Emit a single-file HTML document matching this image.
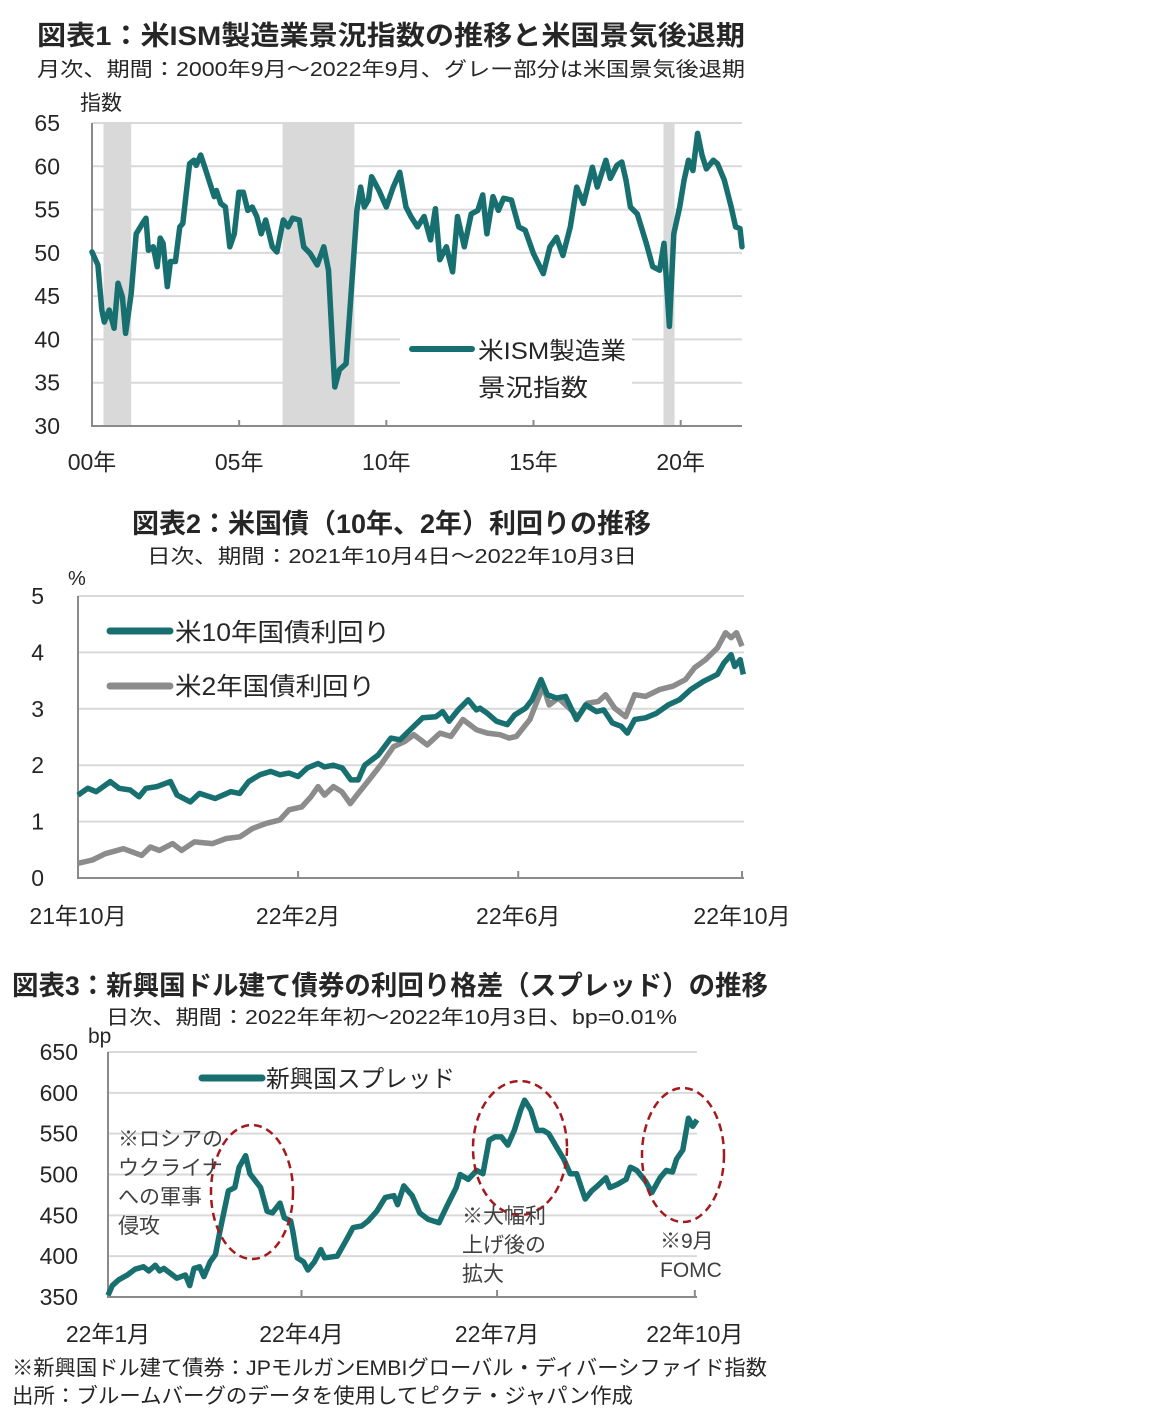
<!DOCTYPE html>
<html><head><meta charset="utf-8">
<style>
html,body{margin:0;padding:0;background:#fff;}
svg{display:block;font-family:"Liberation Sans","Noto Sans CJK JP",sans-serif;}
</style></head>
<body>
<svg id="s" width="1152" height="1428" viewBox="0 0 1152 1428" xmlns="http://www.w3.org/2000/svg">
<g id="c1"></g>
<g id="c2"></g>
<g id="c3"></g>
</svg>
<script>
// ---- Chart 1 data (month index since 2000-09, ISM value) ----
const ismMonths=[0,2.4,4,5,7,9,10.6,12.4,13.7,16,18,20.6,22,23,25,26.6,27.8,29,30.7,32,34,35.8,37,39.8,41.6,42.5,44.3,46,49.8,50.7,52.5,54.4,56.2,58,59.9,61.7,63.5,65.3,67.2,69,70.8,73.5,75.4,78,80,81.8,84.5,86.3,89,91.8,94.5,96.4,98.2,99,100.9,103.6,106.4,108,109.5,111,112.7,114,117,120,122.8,125.5,128,130,132.7,135.4,138,140,141.8,144.5,147,149,151.8,154.6,157.3,159.3,161,163.5,165.7,167.8,171,174,176.6,180,184,186.7,189.4,192,195,197.6,200.4,204,206,209.5,211.3,214,216,217.7,219.5,222.3,226,228.6,231.4,233.2,235.4,237.2,239.6,241.4,243.2,245,246.9,248.7,250.5,253.3,255,257.8,260.6,262.4,264.2,265];
const ismValues=[50.1,48.6,43.4,42,43.4,41.3,46.5,44.9,40.7,45.3,52.2,53.4,54,50.3,50.7,48.4,51.7,51.1,46.1,49,49,53,53.4,60.3,60.7,60.1,61.3,59.9,56.5,57.2,55.7,55.3,50.7,52.2,57,57,54.9,55.3,54.2,52.2,53.8,50.7,50.1,53.8,53,54,53.8,50.7,49.9,48.6,50.7,48,38.4,34.5,36.5,37.2,48.4,54.9,57.6,55.3,56.1,58.8,57.2,55.3,57.6,59.3,55.3,54.2,53,54.2,51.5,55.1,49.2,50.7,47.8,54.2,50.7,54.5,54.9,56.7,52.2,56.5,54.9,56.3,56.1,53,52.6,49.9,47.6,50.7,51.8,49.7,53,57.6,55.7,59.9,57.6,60.7,58.6,60.1,60.5,58.4,55.3,54.5,51.1,48.4,48,51.1,41.5,52.2,55.3,58.4,60.7,59.5,63.8,61.3,59.7,60.7,60.3,58.4,55.3,53,52.8,50.7];
const recessionStart=[4.7,77.7,233];
const recessionEnd=[16,107,237.5];
const c1YTicks=[30,35,40,45,50,55,60,65];
const c1XLabels=["00年","05年","10年","15年","20年"];
const c1XLabelMonths=[0,60,120,180,240];

// ---- Chart 2 data (day index since 2021-10-04) ----
const t10Days=[0,5.4,10,17.7,22.6,28.7,33.6,37.3,43.4,50.8,54.5,61.8,66.8,75.4,84,88.9,93.8,100,106,111,116,121,126,132,135.5,140.4,145.3,150,154,157.6,165,172,177,184.6,189.5,196.8,200.5,204,209,214.5,219,221,225,230,236,240,246,249.6,254.5,258,263,268,274,279,285,289,293.7,298.6,302,306,312,318,324.5,330.6,336.8,344,351.5,355,359,361,364,365.7];
const t10Values=[1.47,1.59,1.53,1.71,1.59,1.56,1.44,1.59,1.62,1.71,1.47,1.35,1.5,1.41,1.53,1.5,1.71,1.83,1.89,1.83,1.86,1.8,1.95,2.03,1.97,2.0,1.95,1.74,1.74,2.0,2.18,2.48,2.45,2.69,2.84,2.86,2.95,2.78,2.98,3.16,2.98,3.01,2.92,2.78,2.72,2.89,3.01,3.16,3.52,3.25,3.19,3.22,2.81,3.07,2.95,2.98,2.75,2.69,2.57,2.81,2.84,2.92,3.07,3.16,3.34,3.49,3.61,3.81,3.96,3.75,3.87,3.61];
const t2Days=[0,7.9,15,25,30,35,39.8,44.7,52,57,64,74,81.5,89,96,103.6,111,116,123,128,132,135.5,140.4,145,149.7,154,160,167,173.5,179.7,184.6,192,199,205,211.6,219,225,232,237,241,248.4,253,255.7,259,264,269,275,280,286,290,295,301,306,312,319.6,327,334,339,345,351.5,356,359,362,365];
const t2Values=[0.26,0.32,0.43,0.52,0.46,0.40,0.55,0.49,0.61,0.49,0.64,0.61,0.70,0.73,0.88,0.97,1.03,1.21,1.26,1.44,1.62,1.47,1.62,1.53,1.32,1.5,1.74,2.03,2.33,2.42,2.54,2.36,2.57,2.51,2.81,2.63,2.57,2.54,2.48,2.51,2.81,3.19,3.4,3.07,3.19,3.04,2.86,3.1,3.13,3.25,3.01,2.86,3.25,3.22,3.34,3.4,3.52,3.73,3.87,4.08,4.35,4.26,4.35,4.11];
const c2YTicks=[0,1,2,3,4,5];
const c2XLabels=["21年10月","22年2月","22年6月","22年10月"];
const c2XLabelDays=[0,121,242,365];

// ---- Chart 3 data (day index since 2022-01-01, bp) ----
const emDays=[0,2,5,9,12.6,16.5,19,22,24,26,32,36,38,40,42.6,44.6,47.5,50,52,53.7,56,59,61,64,66,71,74,76.5,80,82,85,86,88,91,93,96,99,100.8,106.6,110.5,114,118,121,125,129,133,134.7,137.6,141.5,145,149,154,158,162,163.8,167.6,171.5,174.4,177.3,180,183,186,189,192,193.8,196.7,199.6,202.5,205,209,212,215,218,222,225,227.7,231.6,233.5,237,241,243,246,250,253,256.8,259.7,262.6,264.5,267.4,270,272,274];
const emValues=[352,364,371,377,384,387,382,389,382,385,373,377,364,385,387,375,393,402,430,451,480,484,509,523,501,484,455,453,465,447,443,430,398,393,383,393,408,398,400,418,435,437,443,455,472,474,463,486,474,453,445,441,463,484,500,494,505,501,542,546,546,536,554,579,591,579,554,554,550,532,519,501,501,470,480,486,496,484,488,494,509,505,492,478,496,505,503,519,530,569,559,567];
const c3YTicks=[350,400,450,500,550,600,650];
const c3XLabels=["22年1月","22年4月","22年7月","22年10月"];
const c3XLabelDays=[0,90,181,273];

const NS="http://www.w3.org/2000/svg";
const TEAL="#17706f", GRAY="#8c8c8c", GRID="#d9d9d9", AX="#8a8a8a", TXT="#262626";
function mk(parent,tag,attrs,text){const e=document.createElementNS(NS,tag);for(const k in attrs)e.setAttribute(k,attrs[k]);if(text!==undefined)e.textContent=text;parent.appendChild(e);return e;}
function lin(d0,d1,r0,r1){return v=>r0+(v-d0)/(d1-d0)*(r1-r0);}
function path(xs,ys,fx,fy){return xs.map((x,i)=>(i?"L":"M")+fx(x).toFixed(1)+","+fy(ys[i]).toFixed(1)).join("");}
function fit(x0,x1){return {x:x0,textLength:x1-x0,lengthAdjust:'spacingAndGlyphs'};}

// ===== Chart 1 =====
(function(){
const g=document.getElementById('c1');
const X=lin(0,265,92,742), Y=lin(30,65,426,123);
let t;
t=mk(g,'text',Object.assign(fit(37,745),{y:45,'font-size':27,'font-weight':'bold',fill:TXT}),'図表1：米ISM製造業景況指数の推移と米国景気後退期');

t=mk(g,'text',Object.assign(fit(37,745),{y:76,'font-size':20,fill:TXT}),'月次、期間：2000年9月～2022年9月、グレー部分は米国景気後退期');

t=mk(g,'text',{x:80,y:110,'font-size':21,fill:TXT},'指数');

for(let i=0;i<recessionStart.length;i++){
  const r=mk(g,'rect',{x:X(recessionStart[i]),y:Y(65),width:X(recessionEnd[i])-X(recessionStart[i]),height:Y(30)-Y(65),fill:'#d9d9d9'});
  
}
c1YTicks.forEach(v=>{
  if(v>30){const l=mk(g,'line',{x1:92,x2:742,y1:Y(v),y2:Y(v),stroke:GRID,'stroke-width':2});
  }
  const tl=mk(g,'text',{x:60,y:Y(v)+8,'text-anchor':'end','font-size':23,fill:TXT},String(v));
  
});
let r=mk(g,'rect',{x:400,y:332,width:232,height:70,fill:'#fff'});

let ax=mk(g,'path',{d:`M92,${Y(65)}V426H742`,fill:'none',stroke:AX,'stroke-width':2});

c1XLabelMonths.forEach((m,i)=>{
  if(i>0){const tk=mk(g,'line',{x1:X(m),x2:X(m),y1:420,y2:426,stroke:AX,'stroke-width':2});
  }
  const tl=mk(g,'text',{x:X(m),y:470,'text-anchor':'middle','font-size':23,fill:TXT},c1XLabels[i]);
  
});
const p=mk(g,'path',{d:path(ismMonths,ismValues,X,Y),fill:'none',stroke:TEAL,'stroke-width':5.5,'stroke-linejoin':'round','stroke-linecap':'round'});

const ll=mk(g,'line',{x1:412,x2:472,y1:349,y2:349,stroke:TEAL,'stroke-width':6,'stroke-linecap':'round'});

t=mk(g,'text',Object.assign(fit(478,626),{y:359,'font-size':24,fill:TXT}),'米ISM製造業');

t=mk(g,'text',Object.assign(fit(478,588),{y:396,'font-size':24,fill:TXT}),'景況指数');

})();

// ===== Chart 2 =====
(function(){
const g=document.getElementById('c2');
const X=lin(0,365,78,742), Y=lin(0,5,878,596);
let t;
t=mk(g,'text',Object.assign(fit(132,651),{y:533,'font-size':27,'font-weight':'bold',fill:TXT}),'図表2：米国債（10年、2年）利回りの推移');

t=mk(g,'text',Object.assign(fit(147,637),{y:563,'font-size':20,fill:TXT}),'日次、期間：2021年10月4日～2022年10月3日');

t=mk(g,'text',{x:68,y:585,'font-size':20,fill:TXT},'%');

c2YTicks.forEach(v=>{
  if(v>0){const l=mk(g,'line',{x1:78,x2:744,y1:Y(v),y2:Y(v),stroke:GRID,'stroke-width':2});
  }
  const tl=mk(g,'text',{x:44,y:Y(v)+8,'text-anchor':'end','font-size':23,fill:TXT},String(v));
  
});
let ax=mk(g,'path',{d:`M78,${Y(5)}V878H744`,fill:'none',stroke:AX,'stroke-width':2});

c2XLabelDays.forEach((d,i)=>{
  if(i>0){const tk=mk(g,'line',{x1:X(d),x2:X(d),y1:871,y2:878,stroke:AX,'stroke-width':2});
  }
  const tl=mk(g,'text',{x:X(d),y:924,'text-anchor':'middle','font-size':23,fill:TXT},c2XLabels[i]);
  
});
let p=mk(g,'path',{d:path(t2Days,t2Values,X,Y),fill:'none',stroke:GRAY,'stroke-width':5.5,'stroke-linejoin':'round'});

p=mk(g,'path',{d:path(t10Days,t10Values,X,Y),fill:'none',stroke:TEAL,'stroke-width':5.5,'stroke-linejoin':'round'});

let l=mk(g,'line',{x1:110,x2:170,y1:631,y2:631,stroke:TEAL,'stroke-width':7,'stroke-linecap':'round'});

t=mk(g,'text',Object.assign(fit(175,390),{y:641,'font-size':25,fill:TXT}),'米10年国債利回り');

l=mk(g,'line',{x1:110,x2:170,y1:686,y2:686,stroke:GRAY,'stroke-width':7,'stroke-linecap':'round'});

t=mk(g,'text',Object.assign(fit(175,375),{y:695,'font-size':25,fill:TXT}),'米2年国債利回り');

})();

// ===== Chart 3 =====
(function(){
const g=document.getElementById('c3');
const X=lin(0,274,108,697), Y=lin(350,650,1297,1052);
let t;
t=mk(g,'text',Object.assign(fit(12,768),{y:995,'font-size':27,'font-weight':'bold',fill:TXT}),'図表3：新興国ドル建て債券の利回り格差（スプレッド）の推移');

t=mk(g,'text',Object.assign(fit(106,677),{y:1024,'font-size':20,fill:TXT}),'日次、期間：2022年年初～2022年10月3日、bp=0.01%');

t=mk(g,'text',{x:88,y:1043,'font-size':21,fill:TXT},'bp');

c3YTicks.forEach(v=>{
  if(v>350){const l=mk(g,'line',{x1:108,x2:697,y1:Y(v),y2:Y(v),stroke:GRID,'stroke-width':2});
  }
  const tl=mk(g,'text',{x:78,y:Y(v)+8,'text-anchor':'end','font-size':23,fill:TXT},String(v));
  
});
let ax=mk(g,'path',{d:`M108,${Y(650)}V1297H697`,fill:'none',stroke:AX,'stroke-width':2});

c3XLabelDays.forEach((d,i)=>{
  if(i>0){const tk=mk(g,'line',{x1:X(d),x2:X(d),y1:1290,y2:1297,stroke:AX,'stroke-width':2});
  }
  const tl=mk(g,'text',{x:X(d),y:1342,'text-anchor':'middle','font-size':23,fill:TXT},c3XLabels[i]);
  
});
let p=mk(g,'path',{d:path(emDays,emValues,X,Y),fill:'none',stroke:TEAL,'stroke-width':5.5,'stroke-linejoin':'round'});

let l=mk(g,'line',{x1:202,x2:262,y1:1078,y2:1078,stroke:TEAL,'stroke-width':7,'stroke-linecap':'round'});

t=mk(g,'text',Object.assign(fit(266,455),{y:1087,'font-size':24,fill:TXT}),'新興国スプレッド');

const ells=[[252,1192,41,67],[520,1148,47,67],[683,1155,41,67]];
ells.forEach(e=>{const el=mk(g,'ellipse',{cx:e[0],cy:e[1],rx:e[2],ry:e[3],fill:'none',stroke:'#a3191c','stroke-width':2.5,'stroke-dasharray':'8,5'});
});
const notes=[[118,1146,['※ロシアの','ウクライナ','への軍事','侵攻']],[462,1223,['※大幅利','上げ後の','拡大']],[660,1248,['※9月','FOMC']]];
notes.forEach(n=>{n[2].forEach((s,i)=>{const tt=mk(g,'text',{x:n[0],y:n[1]+i*29,'font-size':21,fill:'#404040'},s);
});});
t=mk(g,'text',Object.assign(fit(12,767),{y:1375,'font-size':21,fill:TXT}),'※新興国ドル建て債券：JPモルガンEMBIグローバル・ディバーシファイド指数');

t=mk(g,'text',Object.assign(fit(12,633),{y:1403,'font-size':21,fill:TXT}),'出所：ブルームバーグのデータを使用してピクテ・ジャパン作成');

})();
</script>
</body></html>
